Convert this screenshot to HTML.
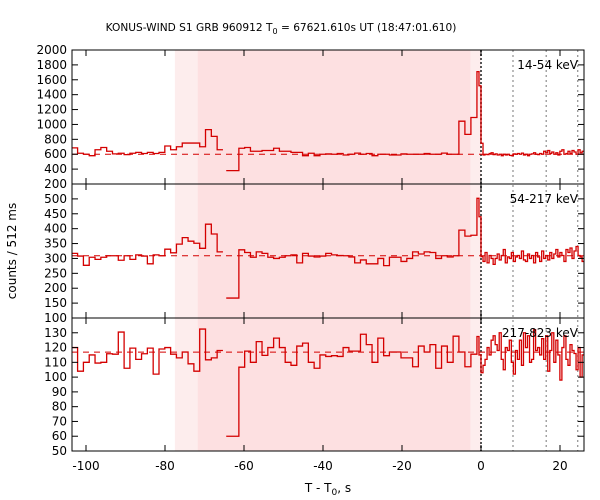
<!DOCTYPE html>
<html><head><meta charset="utf-8"><style>
body{margin:0;background:#fff}
svg{display:block;font-family:"DejaVu Sans","Liberation Sans",sans-serif}
</style></head><body>
<svg id="chart" width="600" height="500" viewBox="0 0 600 500" xmlns="http://www.w3.org/2000/svg">
<text x="281" y="31" font-size="10.6" text-anchor="middle">KONUS-WIND S1 GRB 960912 T<tspan font-size="8" dy="3">0</tspan><tspan dy="-3"> = 67621.610s UT (18:47:01.610)</tspan></text>
<text x="16" y="251" font-size="12" text-anchor="middle" transform="rotate(-90 16 251)">counts / 512 ms</text>
<text x="328" y="492" font-size="12" text-anchor="middle">T - T<tspan font-size="9" dy="3">0</tspan><tspan dy="-3">, s</tspan></text>
<g id="g"></g>
</svg>
<script>
// ---- data ----
const segStarts = [-103.6, -64.5, -61.3, -5.6, -1.024];
const segWidths = [1.472, 3.2, 1.466, 1.523, 0.512];
const segJoinPrev = [false, false, true, true, true];
const xTicks = [-100, -80, -60, -40, -20, 0, 20];
const dottedLines = [8.1, 16.5, 24.5];
const shadeOuter = [-77.5, 0];
const shadeInner = [-71.7, -2.7];
const panelNames = ["14-54 keV", "54-217 keV", "217-823 keV"];
const panelRanges = [[200, 2000], [100, 550], [50, 140]];
const panelTicks1 = [200,400,600,800,1000,1200,1400,1600,1800,2000];
const panelTicks2 = [100,150,200,250,300,350,400,450,500];
const panelTicks3 = [50,60,70,80,90,100,110,120,130];
const baselines = [600, 309, 116.9];

const top_A = [685,613,600,580,660,690,640,605,613,595,613,625,610,625,610,625,710,660,700,750,750,750,700,930,840,660];
const top_dip = [380];
const top_B = [680,690,640,640,650,650,680,640,640,625,625,580,613,580,600,605,600,610,590,600,615,600,610,580,600,600,590,590,605,600,600,600,610,600,600,615,600,600];
const top_C = [1044,867,1093];
const top_D = [1710,1520,747,590,600,595,610,620,595,605,590,600,580,600,590,600,585,580,605,600,610,600,615,590,600,580,600,605,620,600,595,610,600,640,620,650,610,630,600,620,590,640,660,600,610,640,610,650,630,600,660,620,640];

const mid_A = [317,308,277,304,297,304,309,309,294,309,297,312,308,282,312,309,331,319,348,370,358,351,334,415,382,322];
const mid_dip = [167];
const mid_B = [329,320,304,322,317,304,300,304,309,312,285,317,308,305,308,317,312,310,309,305,285,295,282,282,300,276,304,304,290,300,322,315,322,320,300,309,305,309];
const mid_C = [395,375,378];
const mid_D = [502,440,306,290,320,285,310,300,280,300,315,295,310,330,285,305,300,320,290,305,310,300,325,295,290,315,300,310,285,320,305,290,325,300,310,295,320,300,315,330,305,320,310,290,330,320,335,300,325,340,310,305,290];

const bot_A = [120,104,110,115,109.5,110,115.8,115.5,130.5,106,119.6,112,115.8,119.6,102,119,120,115.5,113,117,109,104,132.5,111.7,113,118];
const bot_dip = [60];
const bot_B = [106.7,117.6,110,124,114.7,120,126.4,120,110,108,121,123,110,106,115,114,114.5,114,120,117.6,117.6,129,122,110,126.4,114.5,117,117,113,113,107,121,117,122,106,121,110,127.7];
const bot_C = [117,107,115.5];
const bot_D = [127.5,115,103,108,112,120,115,125,128,122,118,130,112,105,120,118,125,110,102,118,112,125,108,130,120,128,110,112,132,118,120,115,126,112,128,104,118,130,110,125,115,98,120,128,112,108,122,118,116,105,120,100,115];

const series = [[top_A,top_dip,top_B,top_C,top_D],[mid_A,mid_dip,mid_B,mid_C,mid_D],[bot_A,bot_dip,bot_B,bot_C,bot_D]];
const panelTicks = [panelTicks1, panelTicks2, panelTicks3];

// ---- layout ----
const X0 = 72, X1 = 584;
const panelY = [[50,184],[184,318],[318,451]];
const xs = t => 481 + t*3.95;
const NS = "http://www.w3.org/2000/svg";
const g = document.getElementById('g');
function mk(tag, attrs, parent){const e=document.createElementNS(NS,tag);for(const k in attrs)e.setAttribute(k,attrs[k]);(parent||g).appendChild(e);return e;}

const clip = mk('clipPath',{id:'pc'});
mk('rect',{x:X0,y:50,width:X1-X0,height:401},clip);

let r = mk('rect',{x:xs(shadeOuter[0]),y:50,width:xs(shadeOuter[1])-xs(shadeOuter[0]),height:401,fill:'#fdeded'});


r = mk('rect',{x:xs(shadeInner[0]),y:50,width:xs(shadeInner[1])-xs(shadeInner[0]),height:401,fill:'#fde0e1'});



let z = mk('line',{x1:xs(0),x2:xs(0),y1:50,y2:451,stroke:'#444','stroke-width':1.8,'stroke-dasharray':'2,2'});


dottedLines.forEach(t=>{
  const l = mk('line',{x1:xs(t),x2:xs(t),y1:50,y2:451,stroke:'#777','stroke-width':1,'stroke-dasharray':'2,3'});
  
  
});

for(let p=0;p<3;p++){
  const [yt,yb] = panelY[p];
  const [lo,hi] = panelRanges[p];
  const ys = v => yb - (v-lo)/(hi-lo)*(yb-yt);
  const pg = mk('g',{});
  
  
  const bl = mk('line',{x1:X0,x2:X1,y1:ys(baselines[p]),y2:ys(baselines[p]),stroke:'#d40000','stroke-width':1,'stroke-dasharray':'6,5'},pg);
  
  
  let d='';
  series[p].forEach((vals,si)=>{
    let t = segStarts[si];
    const w = segWidths[si];
    vals.forEach((v,i)=>{
      const xa = xs(t), xb = xs(t+w), y = ys(v);
      const cmd = (i===0 && !segJoinPrev[si]) ? 'M' : 'L';
      d += cmd+xa.toFixed(2)+','+y.toFixed(2)+'L'+xb.toFixed(2)+','+y.toFixed(2);
      t += w;
    });
  });
  const path = mk('path',{d:d,fill:'none',stroke:'#d40000','stroke-width':1.3,'clip-path':'url(#pc)'},pg);
  
  
  const fr = mk('rect',{x:X0,y:yt,width:X1-X0,height:yb-yt,fill:'none',stroke:'#000','stroke-width':1},pg);
  
  
  xTicks.forEach(t=>{
    const x=xs(t);
    mk('line',{x1:x,x2:x,y1:yt,y2:yt+6,stroke:'#000'},pg);
    mk('line',{x1:x,x2:x,y1:yb,y2:yb-6,stroke:'#000'},pg);
  });
  panelTicks[p].forEach(v=>{
    const y=ys(v);
    mk('line',{x1:X0,x2:X0+6,y1:y,y2:y,stroke:'#000'},pg);
    mk('line',{x1:X1,x2:X1-6,y1:y,y2:y,stroke:'#000'},pg);
    const tx = mk('text',{x:X0-5,y:y+4,'font-size':12,'text-anchor':'end'},pg);
    tx.textContent = v;
    
    
  });
  const lab = mk('text',{x:578,y:yt+19,'font-size':12,'text-anchor':'end'},pg);
  lab.textContent = panelNames[p];
  
  
}
xTicks.forEach(t=>{
  const tx = mk('text',{x:xs(t),y:470,'font-size':12,'text-anchor':'middle'});
  tx.textContent = t===0?'0':(t<0?'-'+(-t):t);
  
  
});
</script>
</body></html>
